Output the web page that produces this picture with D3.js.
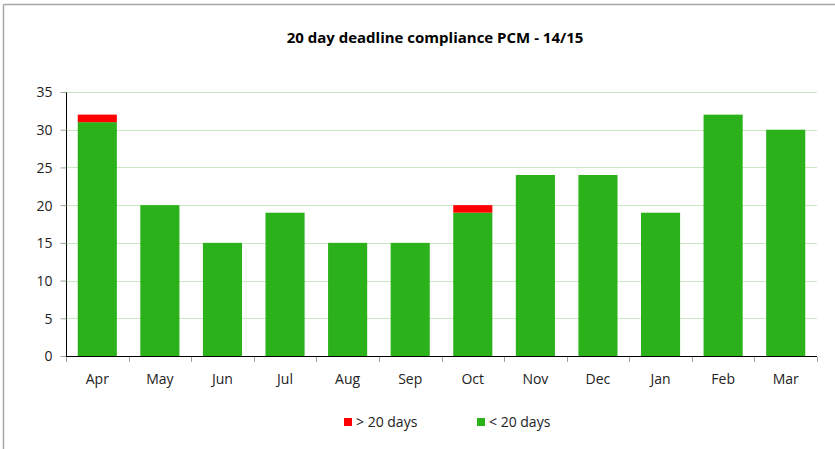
<!DOCTYPE html>
<html><head><meta charset="utf-8">
<script src="https://cdn.jsdelivr.net/npm/d3@7"></script>
<style>body{margin:0;background:#fff}svg{display:block}text{font-family:"Open Sans","Liberation Sans",sans-serif}</style>
</head><body>
<svg id="c" width="835" height="449"></svg>
<script>
const months = ["Apr","May","Jun","Jul","Aug","Sep","Oct","Nov","Dec","Jan","Feb","Mar"];
const under20 = [31,20,15,19,15,15,19,24,24,19,32,30];
const over20  = [1,0,0,0,0,0,1,0,0,0,0,0];
const yTicks = [0,5,10,15,20,25,30,35];
const title = "20 day deadline compliance PCM - 14/15";
const seriesNames = ["> 20 days","< 20 days"];
const colors = {green:"#2BB21B", red:"#FF0000"};

const svg = d3.select("#c");
svg.append("line").attr("x1",3.5).attr("x2",835).attr("y1",4.5).attr("y2",4.5).attr("stroke","#a6a6a6").attr("stroke-width",1.5);
svg.append("line").attr("x1",3.5).attr("x2",3.5).attr("y1",4.5).attr("y2",449).attr("stroke","#a6a6a6").attr("stroke-width",1.5);

const L=66, R=817, T=92, B=356;
const x = d3.scaleBand().domain(months).range([L,R]).paddingInner(0.375).paddingOuter(0.1875);
const y = d3.scaleLinear().domain([0,35]).range([B,T]);

svg.append("text").attr("x",435).attr("y",43).attr("text-anchor","middle")
  .attr("font-size",15).attr("font-weight","bold").attr("fill","#000").text(title);

svg.append("g").selectAll("line").data(yTicks.filter(d=>d>0)).join("line")
  .attr("x1",L).attr("x2",R).attr("y1",d=>Math.round(y(d))+0.5).attr("y2",d=>Math.round(y(d))+0.5)
  .attr("stroke","#C9E8C2").attr("stroke-width",1);

const data = months.map((m,i)=>({m, g:under20[i], r:over20[i]}));
svg.append("g").selectAll("rect").data(data).join("rect")
  .attr("x",d=>x(d.m)).attr("width",x.bandwidth())
  .attr("y",d=>y(d.g)).attr("height",d=>y(0)-y(d.g)).attr("fill",colors.green);
svg.append("g").selectAll("rect").data(data.filter(d=>d.r>0)).join("rect")
  .attr("x",d=>x(d.m)).attr("width",x.bandwidth())
  .attr("y",d=>y(d.g+d.r)).attr("height",d=>y(d.g)-y(d.g+d.r)).attr("fill",colors.red);

const ya = svg.append("g").attr("transform",`translate(${L+0.5},0)`)
  .call(d3.axisLeft(y).tickValues(yTicks).tickSize(6).tickPadding(8));
ya.select(".domain").attr("stroke","#000").attr("d",`M0,${T}V${B}`);
ya.selectAll(".tick line").attr("stroke","#a0a0a0");
ya.selectAll("text").attr("font-size",14).attr("fill","#222").attr("dy","0.35em").style("font-family",'"Open Sans",sans-serif');

svg.append("line").attr("x1",L).attr("x2",R).attr("y1",B+0.5).attr("y2",B+0.5).attr("stroke","#000");
const bounds = d3.range(months.length+1).map(i=>L+i*(R-L)/months.length);
svg.append("g").selectAll("line").data(bounds).join("line")
  .attr("x1",d=>Math.round(d)+0.5).attr("x2",d=>Math.round(d)+0.5).attr("y1",B+1).attr("y2",B+6)
  .attr("stroke","#a0a0a0");
svg.append("g").selectAll("text").data(months).join("text")
  .attr("x",d=>x(d)+x.bandwidth()/2).attr("y",384).attr("text-anchor","middle")
  .attr("font-size",14).attr("fill","#222").text(d=>d);

const leg = [{n:seriesNames[0],c:colors.red,x:344},{n:seriesNames[1],c:colors.green,x:477}];
const lg = svg.append("g").selectAll("g").data(leg).join("g");
lg.append("rect").attr("x",d=>d.x).attr("y",418).attr("width",8).attr("height",8).attr("fill",d=>d.c);
lg.append("text").attr("x",d=>d.x+12).attr("y",427).attr("font-size",14).attr("fill","#222").text(d=>d.n);
</script>
</body></html>
